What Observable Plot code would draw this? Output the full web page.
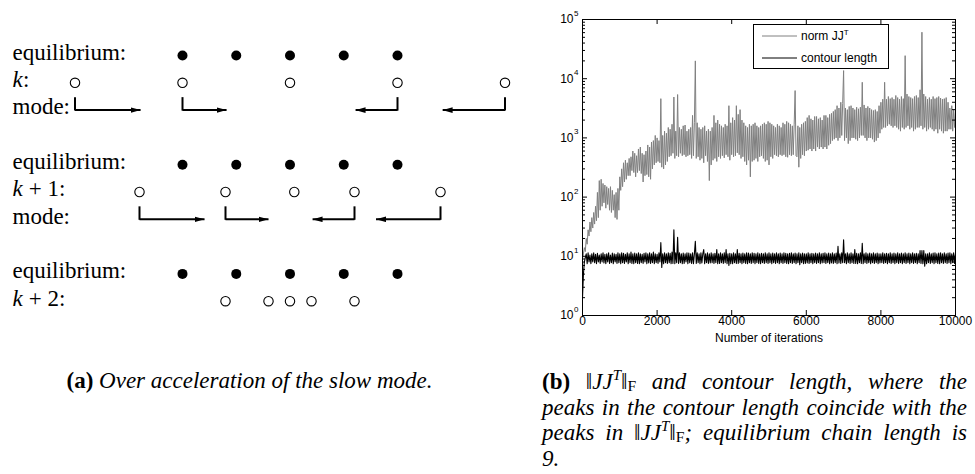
<!DOCTYPE html>
<html><head><meta charset="utf-8">
<script src="https://cdn.jsdelivr.net/npm/d3@7"></script>
<script src="https://cdn.jsdelivr.net/npm/@observablehq/plot@0.6"></script>
<style>
html,body{margin:0;padding:0;background:#fff;}
#root{position:relative;width:975px;height:474px;overflow:hidden;background:#fff;color:#000;}
.serif{font-family:"Liberation Serif","Times New Roman",serif;}
.cap sup{font-size:0.65em;vertical-align:0.6em;line-height:0;}
.cap sub{font-size:0.68em;vertical-align:-0.15em;line-height:0;font-style:normal;}
.cap .ln{text-align:justify;text-align-last:justify;height:25.7px;line-height:25.7px;}
</style></head><body>
<div id="root">
  <div id="left" style="position:absolute;left:0;top:0"></div>
  <div id="right" style="position:absolute;left:540px;top:0"></div>
  <div id="legend" style="position:absolute;left:753px;top:24px;width:134px;height:43px;border:1px solid #000;background:#fff;"></div>
  <div id="capA" class="serif cap" style="position:absolute;left:0;width:499px;top:368px;text-align:center;font-size:23px;line-height:26px;white-space:nowrap"><b>(a)</b> <i>Over acceleration of the slow mode.</i></div>
  <div id="capB" class="serif cap" style="position:absolute;left:542px;width:425px;top:369px;font-size:23px;">
    <div class="ln"><b>(b)</b> ‖<i>JJ<sup>T</sup></i>‖<sub>F</sub> <i>and contour length, where the</i></div>
    <div class="ln"><i>peaks in the contour length coincide with the</i></div>
    <div class="ln"><i>peaks in</i> ‖<i>JJ<sup>T</sup></i>‖<sub>F</sub><i>; equilibrium chain length is</i></div>
    <div style="line-height:25.7px"><i>9.</i></div>
  </div>
</div>
<script>
// ---------- Panel (a): diagram data (positions in bead-spacing units, rows) ----------
const eqX = [0, 1, 2, 3, 4];
const eqRows = [0, 4, 8];
const kX = [-2, 0, 2, 4, 6];             // step k, row 1
const k1X = [-0.8, 0.8, 2.08, 3.2, 4.8]; // step k+1, row 5
const k2X = [0.8, 1.6, 2.0, 2.4, 3.2];   // step k+2, row 9
const modeFrom1 = [-2, 0, 4, 6];
const modeTo1 = [-0.78, 0.82, 3.22, 4.84];
const modeFrom2 = [-0.8, 0.8, 3.2, 4.8];
const modeTo2 = [0.41, 1.6, 2.42, 3.6];
const rowLabels = [
  {row: 0, k: "", text: "equilibrium:"},
  {row: 1, k: "k", text: ":"},
  {row: 2, k: "", text: "mode:"},
  {row: 4, k: "", text: "equilibrium:"},
  {row: 5, k: "k", text: " + 1:"},
  {row: 6, k: "", text: "mode:"},
  {row: 8, k: "", text: "equilibrium:"},
  {row: 9, k: "k", text: " + 2:"}
];

// ---------- Panel (b): series ----------
const step = 25; // iterations between samples
const normJJT = [
  9, 11, 14, 12, 20, 16, 28, 22, 38, 26,
  45, 30, 55, 35, 70, 40, 120, 45, 190, 60,
  200, 70, 170, 80, 160, 65, 150, 75, 140, 60,
  150, 55, 130, 60, 110, 45, 120, 42, 140, 60,
  220, 130, 300, 150, 380, 180, 420, 200, 380, 230,
  450, 230, 480, 280, 600, 260, 550, 220, 500, 260,
  650, 280, 700, 250, 550, 180, 520, 230, 600, 240,
  760, 220, 700, 200, 850, 300, 900, 350, 1100, 380,
  1000, 400, 900, 380, 4600, 320, 1100, 300, 1300, 350,
  1200, 400, 1500, 480, 1400, 500, 1700, 550, 4900, 450,
  1300, 500, 5400, 480, 1500, 550, 1400, 500, 1600, 520,
  1650, 480, 1300, 500, 1400, 520, 1500, 450, 2400, 500,
  1800, 20000, 450, 1800, 480, 1500, 420, 1400, 450, 1500,
  380, 1600, 500, 1300, 400, 1400, 190, 1300, 350, 1500,
  420, 2400, 450, 1800, 400, 2000, 480, 1700, 450, 1600,
  500, 1500, 460, 1700, 520, 1600, 480, 3500, 420, 1800,
  520, 2200, 480, 2000, 500, 3500, 560, 2500, 520, 3000,
  450, 2000, 480, 1800, 400, 1600, 350, 1500, 420, 1700,
  220, 1600, 400, 1700, 420, 1800, 450, 1600, 400, 1500,
  480, 1600, 500, 1700, 450, 1800, 400, 1700, 420, 1900,
  350, 1800, 480, 1700, 450, 1600, 520, 1500, 500, 1700,
  480, 1600, 520, 1500, 500, 1800, 520, 1700, 480, 1900,
  470, 1800, 520, 1700, 500, 1600, 520, 1700, 6300, 500,
  480, 1600, 320, 1500, 450, 1700, 520, 1800, 500, 1900,
  600, 2200, 620, 2400, 650, 2100, 600, 2000, 650, 2300,
  600, 2300, 700, 2100, 650, 2200, 700, 2000, 650, 2400,
  700, 2400, 650, 2200, 750, 2500, 800, 2600, 900, 2800,
  950, 3000, 1000, 3500, 900, 3200, 1000, 4000, 1100, 3800,
  13700, 900, 3200, 1000, 3000, 800, 3400, 900, 3500, 1000,
  3200, 1000, 3000, 950, 3300, 900, 3100, 1000, 3300, 1100,
  8700, 1100, 3600, 1000, 3200, 900, 3400, 1000, 3200, 1000,
  3000, 950, 2900, 850, 3000, 900, 2800, 1000, 3500, 1200,
  4000, 1400, 4500, 1500, 8700, 1500, 4500, 1600, 5000, 1700,
  4600, 1600, 4800, 1500, 4500, 1600, 5200, 1500, 4800, 1400,
  4500, 1300, 5000, 1500, 4600, 1400, 24500, 1500, 5500, 1600,
  5000, 1400, 4800, 1500, 4600, 1300, 5000, 1400, 5200, 1500,
  4800, 1500, 6500, 1600, 61000, 1400, 5500, 1500, 5000, 1300,
  4500, 1400, 4800, 1500, 4500, 1400, 5000, 1300, 4600, 1400,
  4800, 1200, 5000, 1400, 4700, 1300, 4500, 1200, 4600, 1300,
  4800, 1300, 4000, 1400, 3200, 1400, 3500, 1300, 3000, 1500,
  3000
];
const contourLength = [
  2, 5, 8, 9.5, 11, 7.5, 11.5, 8, 10.5, 7.5,
  11, 8, 11.5, 7.8, 10.8, 7.5, 11.2, 8, 10.5, 7.6,
  11, 8, 11.5, 7.7, 10.8, 7.5, 11, 8, 11.5, 7.6,
  10.5, 7.8, 11.3, 7.5, 11, 8, 10.8, 7.6, 11.5, 7.8,
  11, 7.5, 11.5, 7.8, 11.2, 7.6, 10.8, 8, 11.5, 7.5,
  11, 7.8, 11.8, 7.6, 11, 7.5, 11.3, 7.8, 11, 7.6,
  11.5, 7.5, 11, 7.8, 10.8, 7.6, 11.2, 8, 11.5, 7.5,
  11, 7.7, 11.5, 7.6, 11, 7.8, 11.8, 7.5, 11, 7.8,
  10.8, 7.6, 11.5, 8, 17, 6.5, 11, 7.5, 11.5, 7.8,
  11, 7.6, 11.5, 7.8, 11.2, 7.5, 11.8, 7.6, 28, 7.5,
  11.5, 7.8, 21, 7.6, 11.5, 7.8, 11, 7.5, 11.3, 7.6,
  11, 8, 11.5, 7.5, 11.3, 7.8, 11, 7.6, 11.5, 7.5,
  11, 18, 7.6, 11.5, 7.8, 11, 7.5, 11.5, 7.7, 11,
  13, 7.5, 11, 7.8, 11.5, 7.6, 11, 7.7, 11.5, 7.8,
  11, 7.6, 11.2, 7.8, 13, 7.5, 11, 7.6, 11.5, 7.8,
  11, 7.6, 11.5, 7.8, 13, 7.5, 11, 7, 11.2, 7.5,
  11, 7.5, 11.5, 7.8, 11, 7.6, 13, 7.6, 11.2, 7.8,
  11, 7.5, 11.3, 7.8, 11, 7.6, 11.5, 7.5, 11.3, 7.8,
  11, 7.6, 11.5, 7.8, 11.2, 7.5, 11, 7.8, 11.5, 7.6,
  11, 7.5, 11.2, 7.8, 11, 7.6, 11.5, 7.8, 11, 7.6,
  11.5, 7.8, 11, 7.5, 11.3, 7.8, 11, 7.6, 11.5, 7.8,
  11, 7.5, 11.3, 7.8, 11, 7.6, 11.5, 7.8, 11.2, 7.6,
  11, 7.5, 11.2, 7.8, 11.5, 7.6, 11, 7.8, 11.3, 7.5,
  11, 7.8, 11.5, 7.2, 11, 7.8, 11.3, 7.5, 11, 7.6,
  11, 7.7, 11.5, 7.6, 11, 7.8, 11.2, 7.5, 11, 7.8,
  11.3, 7.6, 11, 7.8, 11.5, 7.5, 11, 7.7, 11.2, 7.8,
  11.5, 7.6, 11, 7.8, 11.3, 7.5, 11, 7.7, 11.5, 7.6,
  11, 7.8, 11.3, 7.5, 14.7, 7.7, 11, 7.6, 11.5, 7.8,
  19, 7.8, 11, 7.5, 11.5, 7.8, 11, 7.6, 11.5, 7.8,
  11, 7.6, 13, 7.6, 11.2, 7.5, 11, 7.8, 11.5, 7.6,
  16.6, 7.5, 11, 7.8, 11.5, 7.6, 11, 7.8, 11.3, 7.5,
  11, 7.8, 11.5, 7.6, 11, 7.8, 11.3, 7.5, 11, 7.7,
  11, 7.8, 11.5, 7.6, 11, 7.8, 11.2, 7.5, 11, 7.8,
  11.5, 7.6, 11, 7.8, 11.3, 7.5, 11, 7.8, 11.5, 7.6,
  11, 7.8, 11.3, 7.5, 11, 7.8, 11.5, 7.6, 11, 7.8,
  11.3, 7.5, 11, 7.8, 11.5, 7.6, 11, 7.8, 11.2, 7.5,
  11, 7.8, 12.5, 7.6, 12.5, 7.5, 12.5, 6.8, 11, 7.5,
  11, 7.8, 11.5, 7.6, 11, 7.8, 11.3, 7.5, 11.5, 7.8,
  11, 7.6, 11.3, 7.5, 11.5, 7.8, 11, 7.6, 11.5, 7.8,
  11, 7.6, 11.3, 7.8, 11.5, 7.5, 11, 7.8, 11.5, 7.6,
  11
];
const xTicks = [0, 2000, 4000, 6000, 8000, 10000];
const yTicks = [1, 10, 100, 1000, 10000, 100000];
const yTickBase = ["10", "10", "10", "10", "10", "10"];
const yTickExp = ["0", "1", "2", "3", "4", "5"];
const seriesNames = ["norm JJ", "contour length"];
const seriesColors = ["#808080", "#000000"];

// ---------- build panel (a) ----------
const filled = eqRows.flatMap(r => eqX.map(x => ({x, row: r})));
const open = [
  ...kX.map(x => ({x, row: 1})),
  ...k1X.map(x => ({x, row: 5})),
  ...k2X.map(x => ({x, row: 9}))
];
const arrows = [
  ...modeFrom1.map((f, i) => ({from: f, to: modeTo1[i], row: 2})),
  ...modeFrom2.map((f, i) => ({from: f, to: modeTo2[i], row: 6}))
];
function triHead(color) {
  const ns = "http://www.w3.org/2000/svg";
  const m = document.createElementNS(ns, "marker");
  m.setAttribute("viewBox", "0 -3 10 6");
  m.setAttribute("refX", 10);
  m.setAttribute("refY", 0);
  m.setAttribute("markerWidth", 10);
  m.setAttribute("markerHeight", 6);
  m.setAttribute("markerUnits", "userSpaceOnUse");
  m.setAttribute("orient", "auto");
  const p = document.createElementNS(ns, "path");
  p.setAttribute("d", "M0,-2.8L10,0L0,2.8Z");
  p.setAttribute("fill", color === "currentColor" ? "black" : color);
  p.setAttribute("stroke", "none");
  m.appendChild(p);
  return m;
}
const serif = "Liberation Serif, Times New Roman, serif";
const left = Plot.plot({
  width: 540, height: 340,
  marginLeft: 12, marginRight: 0, marginTop: 0, marginBottom: 0,
  x: {domain: [0, 4], range: [182, 397], axis: null},
  y: {domain: [0, 8], range: [55, 273.4], axis: null},
  style: {background: "transparent", overflow: "visible", color: "black"},
  marks: [
    Plot.ruleX(arrows, {x: "from", y1: d => d.row - 0.42, y2: "row", stroke: "black", strokeWidth: 2, strokeLinecap: "square"}),
    Plot.link(arrows, {x1: "from", x2: "to", y1: "row", y2: "row", stroke: "black", strokeWidth: 2, markerEnd: triHead}),
    Plot.dot(filled, {x: "x", y: "row", r: 5, fill: "black", stroke: "none"}),
    Plot.dot(open, {x: "x", y: "row", r: 4.7, fill: "white", stroke: "black", strokeWidth: 1.1}),
    Plot.text(rowLabels, {y: "row", text: d => d.k, frameAnchor: "left", textAnchor: "start", dy: -3, fontFamily: serif, fontSize: 23, fontStyle: "italic"}),
    Plot.text(rowLabels, {y: "row", text: "text", frameAnchor: "left", textAnchor: "start", dy: -3, fontFamily: serif, fontSize: 23,
      filter: d => d.k === ""}),
    Plot.text(rowLabels, {y: "row", text: "text", frameAnchor: "left", textAnchor: "start", dx: 10.5, dy: -3, fontFamily: serif, fontSize: 23,
      filter: d => d.k !== ""})
  ]
});
document.getElementById("left").appendChild(left);

// ---------- build panel (b) ----------
const minorTicks = yTicks.slice(0, -1).flatMap(d => [2, 3, 4, 5, 6, 7, 8, 9].map(m => m * d));
const sans = "Liberation Sans, Arial, Helvetica, sans-serif";
const FW = 373, FH = 296;
const right = Plot.plot({
  width: 435, height: 352,
  marginLeft: 42, marginRight: 20, marginTop: 19, marginBottom: 37,
  x: {type: "linear", domain: [0, 10000]},
  y: {type: "log", domain: [1, 100000], axis: null},
  style: {background: "transparent", overflow: "visible", color: "black", fontFamily: sans, fontSize: "12px"},
  marks: [
    Plot.line(normJJT, {x: (d, i) => i * step, y: d => d, stroke: seriesColors[0], strokeWidth: 1}),
    Plot.line(contourLength, {x: (d, i) => i * step, y: d => d, stroke: seriesColors[1], strokeWidth: 1.1}),
    Plot.frame({stroke: "black", strokeWidth: 1}),
    Plot.tickX(xTicks, {x: d => d, insetTop: FH - 5, stroke: "black"}),
    Plot.tickX(xTicks, {x: d => d, insetBottom: FH - 5, stroke: "black"}),
    Plot.tickY(yTicks, {y: d => d, insetRight: FW - 5, stroke: "black"}),
    Plot.tickY(yTicks, {y: d => d, insetLeft: FW - 5, stroke: "black"}),
    Plot.tickY(minorTicks, {y: d => d, insetRight: FW - 3, stroke: "black"}),
    Plot.tickY(minorTicks, {y: d => d, insetLeft: FW - 3, stroke: "black"}),
    Plot.axisX(xTicks, {tickSize: 0, tickPadding: 1, tickFormat: d => String(d), label: null, fontSize: 12}),
    Plot.text(yTicks, {y: d => d, text: (d, i) => yTickBase[i], frameAnchor: "left", textAnchor: "end", dx: -9, fontSize: 12}),
    Plot.text(yTicks, {y: d => d, text: (d, i) => yTickExp[i], frameAnchor: "left", textAnchor: "start", dx: -8.5, dy: -6, fontSize: 8}),
    Plot.text(["Number of iterations"], {frameAnchor: "bottom", dy: 26, fontSize: 12})
  ]
});
document.getElementById("right").appendChild(right);

// ---------- legend ----------
const lg = d3.select("#legend").append("svg").attr("width", 134).attr("height", 43)
  .style("position", "absolute").style("left", "0px").style("top", "0px")
  .style("font-family", sans).style("font-size", "12px");
seriesNames.forEach((name, i) => {
  const cy = 11 + i * 22;
  lg.append("line").attr("x1", 8).attr("x2", 43).attr("y1", cy).attr("y2", cy)
    .attr("stroke", seriesColors[i]).attr("stroke-width", 1);
  const t = lg.append("text").attr("x", 47).attr("y", cy + 4).text(name);
  if (i === 0) t.append("tspan").attr("dy", -5).attr("font-size", 8).text("T");
});
</script>
</body></html>
